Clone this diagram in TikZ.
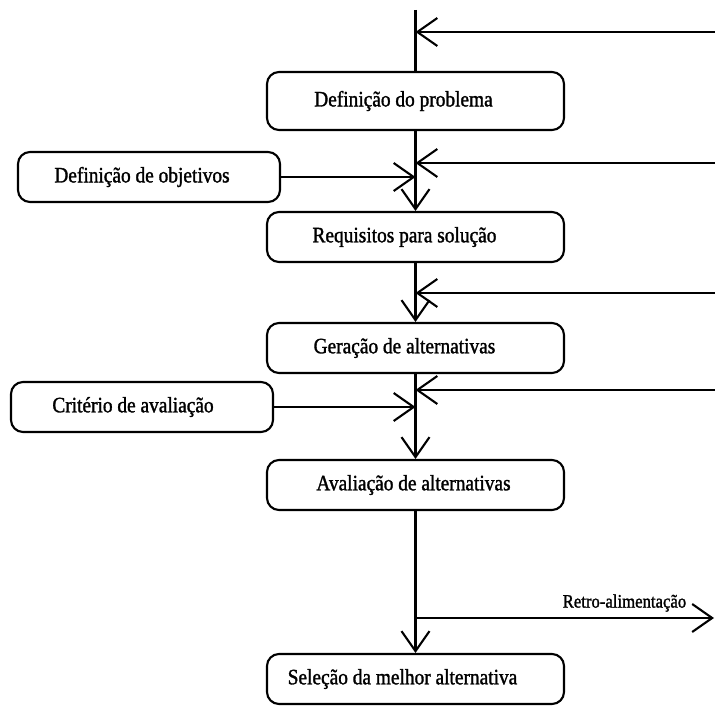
\documentclass[tikz,border=0pt]{standalone}
\usepackage{fontspec}
\setmainfont{Liberation Serif}[FakeStretch=0.88, FakeBold=1.4]
\usetikzlibrary{arrows.meta}
\begin{document}
\begin{tikzpicture}[x=1pt,y=-1pt,
  stage/.style={draw, line width=2.1pt, rounded corners=12pt,
    minimum width=297pt, minimum height=50pt, inner sep=0pt,
    font=\fontsize{22}{24}\selectfont},
  inputbox/.style={stage, minimum width=262pt},
  % moves the label left of the box centre by half the given amount
  textoffset/.style={execute at begin node={\hspace*{-#1}}},
  link/.style={line width=2.1pt},
  flow/.style={link, -{Straight Barb[length=20pt,width=28pt,line width=2.1pt]}}]
\useasboundingbox (0,0) rectangle (715,706);

% process stages along the main spine
\node[stage, minimum height=58pt, textoffset=24pt] (prob) at (415.5,101) {Definição do problema};
\node[stage, textoffset=22pt] (req)  at (415.5,237) {Requisitos para solução};
\node[stage, textoffset=22pt] (ger)  at (415.5,348) {Geração de alternativas};
\node[stage, textoffset=4pt]  (aval) at (415.5,485) {Avaliação de alternativas};
\node[stage, textoffset=26pt] (sel)  at (415.5,679) {Seleção da melhor alternativa};

% side inputs
\node[inputbox, textoffset=14pt] (obj) at (149,177) {Definição de objetivos};
\node[inputbox, textoffset=18pt] (crit) at (142,407) {Critério de avaliação};

% junction points on the spine
\coordinate (top) at (415.5,10);
\coordinate (j1) at (415.5,32);
\coordinate (j2) at (415.5,163);
\coordinate (j3) at (415.5,293);
\coordinate (j4) at (415.5,390);
\coordinate (jo) at (obj.east -| prob.south);
\coordinate (jc) at (crit.east -| prob.south);
\coordinate (jr) at (415.5,618);

% feedback entries from the right edge
\coordinate (f1) at (715,32);
\coordinate (f2) at (715,163);
\coordinate (f3) at (715,293);
\coordinate (f4) at (715,390);
\coordinate (fr) at (714,618);

% main spine
\draw[link] (top) -- (prob.north);
\draw[flow] (prob.south) -- (req.north);
\draw[flow] (req.south) -- (ger.north);
\draw[flow] (ger.south) -- (aval.north);
\draw[flow] (aval.south) -- (sel.north);

% side inputs into the spine
\draw[flow] (obj.east) -- (jo);
\draw[flow] (crit.east) -- (jc);

% feedback arrows
\draw[flow] (f1) -- (j1);
\draw[flow] (f2) -- (j2);
\draw[flow] (f3) -- (j3);
\draw[flow] (f4) -- (j4);
\draw[flow] (jr) -- node[above=2pt, pos=0.7, font=\fontsize{19}{21}\selectfont] (retro) {Retro-alimentação} (fr);
\end{tikzpicture}
\end{document}
